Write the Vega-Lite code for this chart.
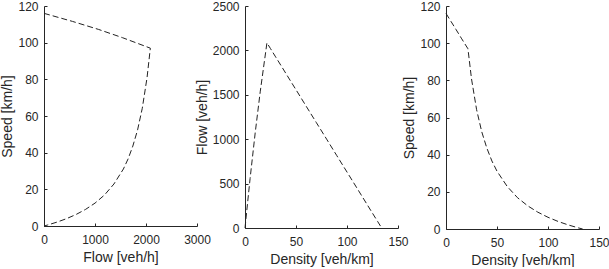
{
  "$schema": "https://vega.github.io/schema/vega-lite/v6.json",
  "padding": {"left": 0, "top": 0, "right": 0, "bottom": 0},
  "datasets": {
    "fd": [
      {"k": 0, "v": 116, "q": 0},
      {"k": 5, "v": 111.6, "q": 558},
      {"k": 10, "v": 107.2, "q": 1072},
      {"k": 15, "v": 102.7, "q": 1541},
      {"k": 21.5, "v": 97, "q": 2085},
      {"k": 25, "v": 80.8, "q": 2020},
      {"k": 30, "v": 64.2, "q": 1927},
      {"k": 35, "v": 52.4, "q": 1835},
      {"k": 40, "v": 43.6, "q": 1742},
      {"k": 45, "v": 36.6, "q": 1649},
      {"k": 50, "v": 31.1, "q": 1557},
      {"k": 60, "v": 22.9, "q": 1371},
      {"k": 70, "v": 16.9, "q": 1186},
      {"k": 80, "v": 12.5, "q": 1001},
      {"k": 90, "v": 9.06, "q": 815},
      {"k": 100, "v": 6.3, "q": 630},
      {"k": 110, "v": 4.04, "q": 445},
      {"k": 120, "v": 2.16, "q": 259},
      {"k": 130, "v": 0.57, "q": 74},
      {"k": 134, "v": 0, "q": 0}
    ]
  },
  "data": {"name": "fd"},
  "hconcat": [
    {
      "width": 153, "height": 220,
      "mark": {"type": "line", "strokeDash": [6, 3], "strokeWidth": 1, "color": "#222222"},
      "encoding": {
        "x": {"field": "q", "type": "quantitative", "title": "Flow [veh/h]",
              "scale": {"domain": [0, 3000], "nice": false, "zero": true},
              "axis": {"values": [0, 1000, 2000, 3000]}},
        "y": {"field": "v", "type": "quantitative", "title": "Speed [km/h]",
              "scale": {"domain": [0, 120], "nice": false},
              "axis": {"values": [0, 20, 40, 60, 80, 100, 120]}},
        "order": {"field": "k", "type": "quantitative"}
      }
    },
    {
      "width": 153, "height": 222,
      "mark": {"type": "line", "strokeDash": [6, 3], "strokeWidth": 1, "color": "#222222"},
      "encoding": {
        "x": {"field": "k", "type": "quantitative", "title": "Density [veh/km]",
              "scale": {"domain": [0, 150], "nice": false},
              "axis": {"values": [0, 50, 100, 150]}},
        "y": {"field": "q", "type": "quantitative", "title": "Flow [veh/h]",
              "scale": {"domain": [0, 2500], "nice": false},
              "axis": {"values": [0, 500, 1000, 1500, 2000, 2500]}},
        "order": {"field": "k", "type": "quantitative"}
      }
    },
    {
      "width": 153, "height": 223,
      "mark": {"type": "line", "strokeDash": [6, 3], "strokeWidth": 1, "color": "#222222"},
      "encoding": {
        "x": {"field": "k", "type": "quantitative", "title": "Density [veh/km]",
              "scale": {"domain": [0, 150], "nice": false},
              "axis": {"values": [0, 50, 100, 150]}},
        "y": {"field": "v", "type": "quantitative", "title": "Speed [km/h]",
              "scale": {"domain": [0, 120], "nice": false},
              "axis": {"values": [0, 20, 40, 60, 80, 100, 120]}},
        "order": {"field": "k", "type": "quantitative"}
      }
    }
  ],
  "spacing": 48,
  "bounds": "flush",
  "config": {
    "view": {"stroke": null},
    "font": "Liberation Sans",
    "axis": {
      "grid": false,
      "format": "d",
      "domainColor": "#262626",
      "tickColor": "#262626",
      "labelColor": "#262626",
      "titleColor": "#262626",
      "labelFont": "Liberation Sans",
      "titleFont": "Liberation Sans",
      "labelFontSize": 12,
      "titleFontSize": 14,
      "titleFontWeight": "normal",
      "tickSize": -3,
      "domainWidth": 1,
      "labelFlush": false,
      "labelOverlap": false
    },
    "axisY": {"titlePadding": 3, "labelPadding": 9},
    "axisX": {"titlePadding": 5, "labelPadding": 11}
  }
}
